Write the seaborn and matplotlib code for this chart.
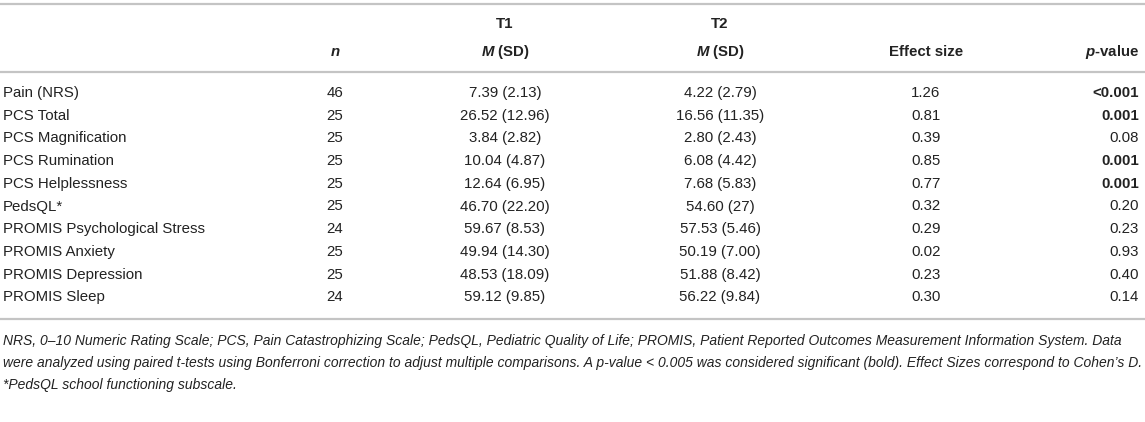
import matplotlib
matplotlib.use("Agg")
import matplotlib.pyplot as plt
import seaborn as sns
import pandas as pd

# table data
measures = ["Pain (NRS)", "PCS Total", "PCS Magnification", "PCS Rumination",
            "PCS Helplessness", "PedsQL*", "PROMIS Psychological Stress",
            "PROMIS Anxiety", "PROMIS Depression", "PROMIS Sleep"]
n = [46, 25, 25, 25, 25, 25, 24, 25, 25, 24]
t1_mean = [7.39, 26.52, 3.84, 10.04, 12.64, 46.70, 59.67, 49.94, 48.53, 59.12]
t1_sd = [2.13, 12.96, 2.82, 4.87, 6.95, 22.20, 8.53, 14.30, 18.09, 9.85]
t2_mean = [4.22, 16.56, 2.80, 6.08, 7.68, 54.60, 57.53, 50.19, 51.88, 56.22]
t2_sd = ["2.79", "11.35", "2.43", "4.42", "5.83", "27", "5.46", "7.00", "8.42", "9.84"]
effect = [1.26, 0.81, 0.39, 0.85, 0.77, 0.32, 0.29, 0.02, 0.23, 0.30]
p_value = ["<0.001", "0.001", "0.08", "0.001", "0.001", "0.20", "0.23", "0.93", "0.40", "0.14"]
significant = [True, True, False, True, True, False, False, False, False, False]

footnote = [
    "NRS, 0\u201310 Numeric Rating Scale; PCS, Pain Catastrophizing Scale; PedsQL, Pediatric Quality of Life; PROMIS, Patient Reported Outcomes Measurement Information System. Data",
    "were analyzed using paired t-tests using Bonferroni correction to adjust multiple comparisons. A p-value < 0.005 was considered significant (bold). Effect Sizes correspond to Cohen\u2019s D.",
    "*PedsQL school functioning subscale.",
]

df = pd.DataFrame({"measure": measures, "n": n,
                   "t1": [f"{m:.2f} ({s:.2f})" for m, s in zip(t1_mean, t1_sd)],
                   "t2": [f"{m:.2f} ({s})" for m, s in zip(t2_mean, t2_sd)],
                   "es": [f"{e:.2f}" for e in effect],
                   "p": p_value, "sig": significant})

sns.set_style("white")
plt.rcParams["font.family"] = ["Liberation Sans", "DejaVu Sans"]
plt.rcParams["mathtext.fontset"] = "custom"
plt.rcParams["mathtext.it"] = "Liberation Sans:italic:bold"
plt.rcParams["mathtext.rm"] = "Liberation Sans:bold"

fig = plt.figure(figsize=(11.45, 4.22), dpi=100)
ax = fig.add_axes([0, 0, 1, 1])
ax.set_xlim(0, 1145)
ax.set_ylim(422, 0)
ax.axis("off")

fs = 10.8
txt = "#222222"
line_c = "#c4c4c4"

# column anchors (pixels)
x_lab, x_n, x_t1, x_t2, x_es, x_p = 3, 335, 505, 720, 926, 1139

y0, dy = 93, 22.7
y_bottom = y0 + 9 * dy + 22

# rules
for y in [4, 72, y_bottom]:
    ax.plot([0, 1145], [y, y], color=line_c, lw=1.6, solid_capstyle="butt")

# header
ax.text(x_t1, 24, "T1", ha="center", va="center", fontsize=fs, fontweight="bold", color=txt)
ax.text(x_t2, 24, "T2", ha="center", va="center", fontsize=fs, fontweight="bold", color=txt)
ax.text(x_n, 52, r"$\mathit{n}$", ha="center", va="center", fontsize=fs, color=txt)
ax.text(x_t1, 52, r"$\mathit{M}$ (SD)", ha="center", va="center", fontsize=fs, fontweight="bold", color=txt)
ax.text(x_t2, 52, r"$\mathit{M}$ (SD)", ha="center", va="center", fontsize=fs, fontweight="bold", color=txt)
ax.text(x_es, 52, "Effect size", ha="center", va="center", fontsize=fs, fontweight="bold", color=txt)
ax.text(x_p, 52, r"$\mathit{p}$-value", ha="right", va="center", fontsize=fs, fontweight="bold", color=txt)

# body rows
for i, row in df.iterrows():
    y = y0 + i * dy
    ax.text(x_lab, y, row["measure"], ha="left", va="center", fontsize=fs, color=txt)
    ax.text(x_n, y, str(row["n"]), ha="center", va="center", fontsize=fs, color=txt)
    ax.text(x_t1, y, row["t1"], ha="center", va="center", fontsize=fs, color=txt)
    ax.text(x_t2, y, row["t2"], ha="center", va="center", fontsize=fs, color=txt)
    ax.text(x_es, y, row["es"], ha="center", va="center", fontsize=fs, color=txt)
    ax.text(x_p, y, row["p"], ha="right", va="center", fontsize=fs, color=txt,
            fontweight="bold" if row["sig"] else "normal")

# footnote
for j, line in enumerate(footnote):
    ax.text(3, y_bottom + 21.5 + j * 22, line, ha="left", va="center", fontsize=10,
            style="italic", color=txt)

fig.savefig("out.png", dpi=100)
